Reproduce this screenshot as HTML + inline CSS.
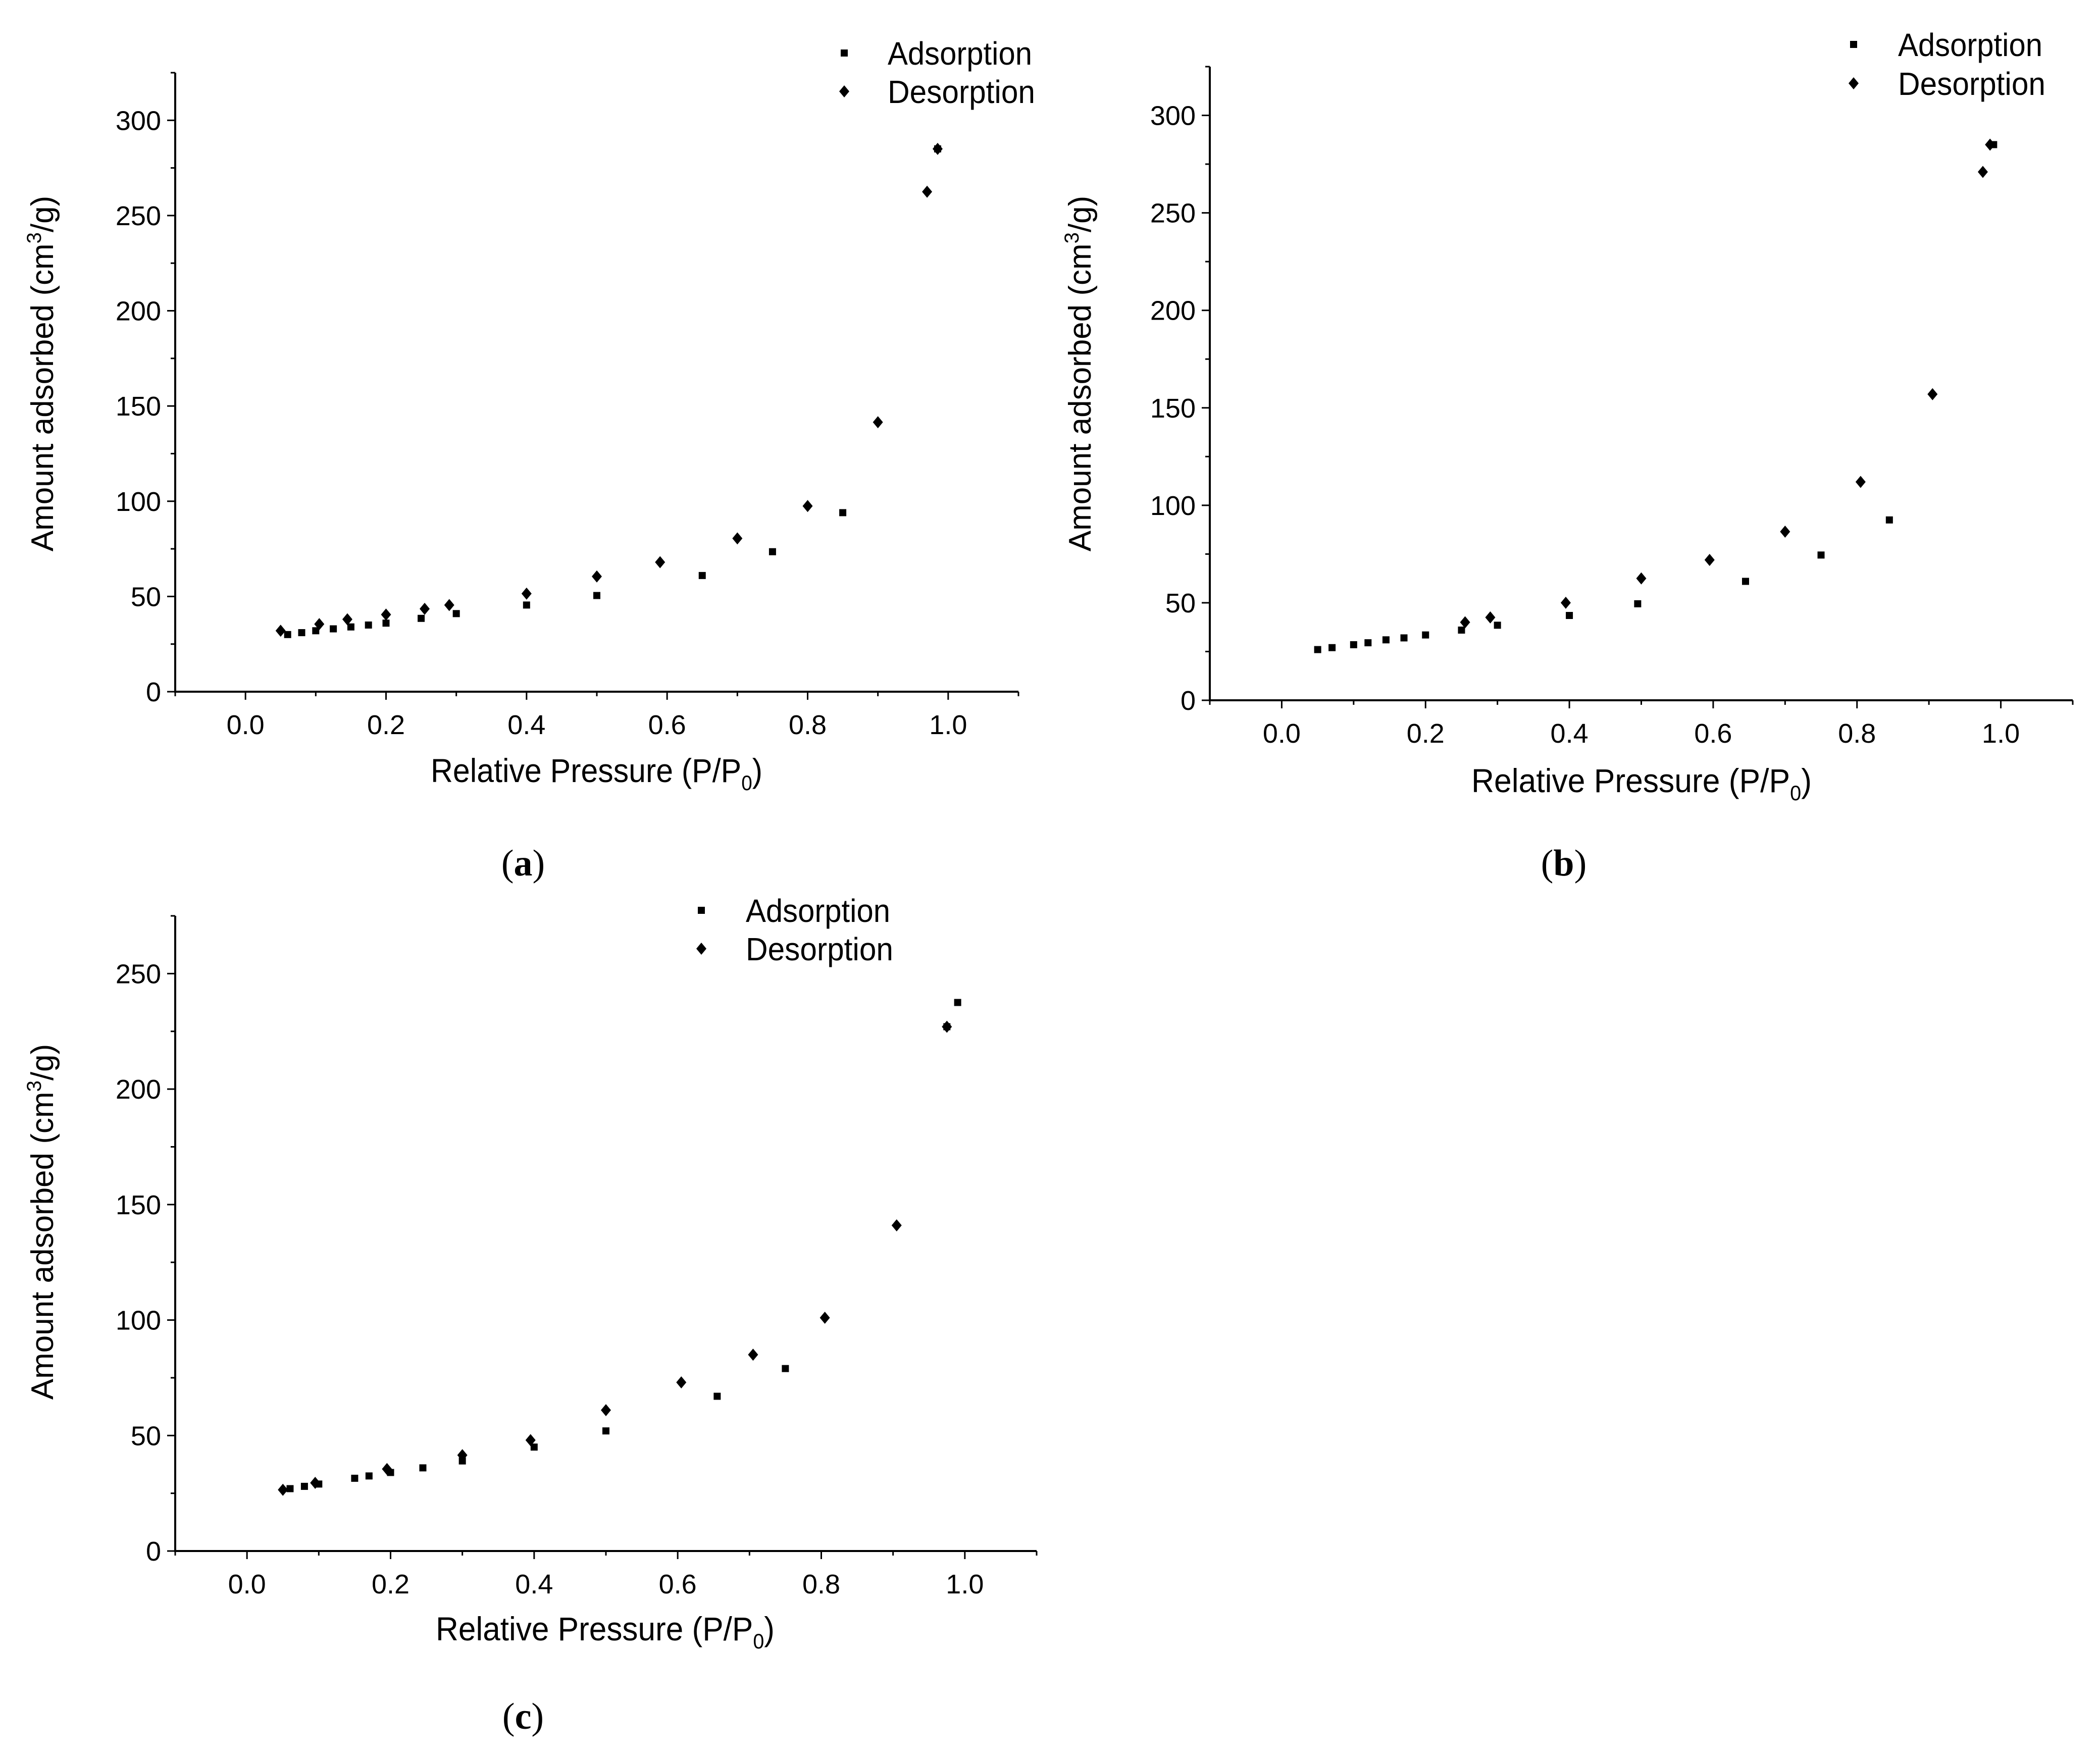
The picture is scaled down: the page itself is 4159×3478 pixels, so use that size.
<!DOCTYPE html>
<html><head><meta charset="utf-8"><style>
html,body{margin:0;padding:0;background:#fff}
svg{display:block}
text{font-family:"Liberation Sans",Arial,sans-serif;fill:#000}
</style></head><body>
<svg id="fig" width="4159" height="3478" viewBox="0 0 4159 3478" xmlns="http://www.w3.org/2000/svg"></svg>
<script>
// Panel (a)
const aAdsX=[0.06,0.08,0.1,0.125,0.15,0.175,0.2,0.25,0.3,0.4,0.5,0.65,0.75,0.85,0.985];
const aAdsY=[30,31,32,33,34,35,36,38.5,41,45.5,50.5,61,73.5,94,285];
const aDesX=[0.05,0.105,0.145,0.2,0.255,0.29,0.4,0.5,0.59,0.7,0.8,0.9,0.97,0.985];
const aDesY=[32,35.5,38,40.5,43.5,45.5,51.5,60.5,68,80.5,97.5,141.5,262.5,285];
// Panel (b)
const bAdsX=[0.05,0.07,0.1,0.12,0.145,0.17,0.2,0.25,0.3,0.4,0.495,0.645,0.75,0.845,0.99];
const bAdsY=[26,27,28.5,29.5,31,32,33.5,36,38.5,43.5,49.5,61,74.5,92.5,285];
const bDesX=[0.255,0.29,0.395,0.5,0.595,0.7,0.805,0.905,0.975,0.985];
const bDesY=[40,42.5,50,62.5,72,86.5,112,157,271,285];
// Panel (c)
const cAdsX=[0.06,0.08,0.1,0.15,0.17,0.2,0.245,0.3,0.4,0.5,0.655,0.75,0.975,0.99];
const cAdsY=[27,28,29,31.5,32.5,34,36,39,45,52,67,79,227,237.5];
const cDesX=[0.05,0.095,0.195,0.3,0.395,0.5,0.605,0.705,0.805,0.905,0.975];
const cDesY=[26.5,29.5,35.5,41.5,48,61,73,85,101,141,227];
const xTicks=[0,0.2,0.4,0.6,0.8,1.0];
const xTickLabels=["0.0","0.2","0.4","0.6","0.8","1.0"];
const yTicksAB=[0,50,100,150,200,250,300];
const yTicksC=[0,50,100,150,200,250];

const NS="http://www.w3.org/2000/svg";
const svg=document.getElementById('fig');
function mk(tag,attrs,parent){const e=document.createElementNS(NS,tag);for(const k in attrs)e.setAttribute(k,attrs[k]);(parent||svg).appendChild(e);return e;}

function panel(p){
  const g=mk('g',{});
  
  
  const sx=v=>p.x0+(v-(-0.1))/(1.2)*(p.x1-p.x0);
  const sy=v=>p.y0-(v/p.ymax)*(p.y0-p.yTop);
  const ya=mk('line',{x1:p.x0,y1:p.yTop,x2:p.x0,y2:p.y0,stroke:'#000','stroke-width':4},g);
  
  
  const xa=mk('line',{x1:p.x0-2,y1:p.y0,x2:p.x1,y2:p.y0,stroke:'#000','stroke-width':4},g);
  
  
  for(let v=0;v<=p.ymax+0.01;v+=25){
    const maj=v%50===0;
    mk('line',{x1:p.x0-(maj?16:9),y1:sy(v),x2:p.x0,y2:sy(v),stroke:'#000','stroke-width':3},g);
  }
  p.yt.forEach(v=>{
    const t=mk('text',{x:p.x0-28,y:sy(v)+19,'font-size':54,'text-anchor':'end'},g);
    t.textContent=String(v);
    
    
  });
  for(let i=-1;i<=11;i++){
    const v=i/10;const maj=(i%2===0);
    mk('line',{x1:sx(v),y1:p.y0,x2:sx(v),y2:p.y0+(maj?16:9),stroke:'#000','stroke-width':3},g);
  }
  xTicks.forEach((v,i)=>{
    const t=mk('text',{x:sx(v),y:p.y0+84,'font-size':54,'text-anchor':'middle'},g);
    t.textContent=xTickLabels[i];
    
    
  });
  const xt=mk('text',{x:p.xtx,y:p.xty,'font-size':66,textLength:p.xtw,lengthAdjust:'spacingAndGlyphs'},g);
  xt.innerHTML='Relative Pressure (P/P<tspan font-size="42" dy="16">0</tspan><tspan dy="-16">)</tspan>';
  
  
  const yt=mk('text',{x:0,y:0,'font-size':62,'text-anchor':'middle',transform:`translate(${p.ytx},${p.yty}) rotate(-90)`},g);
  yt.innerHTML='Amount adsorbed (cm<tspan font-size="40" dy="-24">3</tspan><tspan dy="24">/g)</tspan>';
  
  
  p.ax.forEach((v,i)=>{
    const r=mk('rect',{x:sx(v)-7,y:sy(p.ay[i])-7,width:14,height:14,fill:'#000'},g);
    
    
  });
  p.dx.forEach((v,i)=>{
    const cx=sx(v),cy=sy(p.dy[i]);
    const d=mk('polygon',{points:`${cx},${cy-12} ${cx+10},${cy} ${cx},${cy+12} ${cx-10},${cy}`,fill:'#000'},g);
    
    
  });
  const lg=mk('g',{},g);
  
  
  mk('rect',{x:p.lx-7,y:p.ly1-7,width:14,height:14,fill:'#000'},lg);
  mk('polygon',{points:`${p.lx},${p.ly2-12} ${p.lx+10},${p.ly2} ${p.lx},${p.ly2+12} ${p.lx-10},${p.ly2}`,fill:'#000'},lg);
  const l1=mk('text',{x:p.ltx,y:p.ly1+23,'font-size':64,textLength:286,lengthAdjust:'spacingAndGlyphs'},lg);
  l1.textContent='Adsorption';
  
  
  const l2=mk('text',{x:p.ltx,y:p.ly2+23,'font-size':64,textLength:292,lengthAdjust:'spacingAndGlyphs'},lg);
  l2.textContent='Desorption';
  
  
  const pl=mk('text',{x:p.plx,y:p.ply,'font-size':74,'text-anchor':'middle',style:'font-family:"Liberation Serif",serif'},g);
  pl.innerHTML='(<tspan font-weight="bold">'+p.id+'</tspan>)';
  
  
}
panel({id:'a',x0:347,x1:2017,y0:1370,yTop:144,ymax:325,yt:yTicksAB,ax:aAdsX,ay:aAdsY,dx:aDesX,dy:aDesY,
  xtx:853,xty:1549,xtw:657,ytx:105,yty:740,lx:1672,ly1:105,ly2:181,ltx:1758,plx:1036,ply:1734});
panel({id:'b',x0:2396,x1:4105,y0:1387,yTop:132,ymax:325,yt:yTicksAB,ax:bAdsX,ay:bAdsY,dx:bDesX,dy:bDesY,
  xtx:2914,xty:1569,xtw:674,ytx:2160,yty:740,lx:3671,ly1:88,ly2:165,ltx:3759,plx:3097,ply:1734});
panel({id:'c',x0:347,x1:2053,y0:3072,yTop:1814,ymax:275,yt:yTicksC,ax:cAdsX,ay:cAdsY,dx:cDesX,dy:cDesY,
  xtx:863,xty:3249,xtw:671,ytx:105,yty:2420,lx:1389,ly1:1803,ly2:1879,ltx:1477,plx:1036,ply:3424});
</script>
</body></html>
